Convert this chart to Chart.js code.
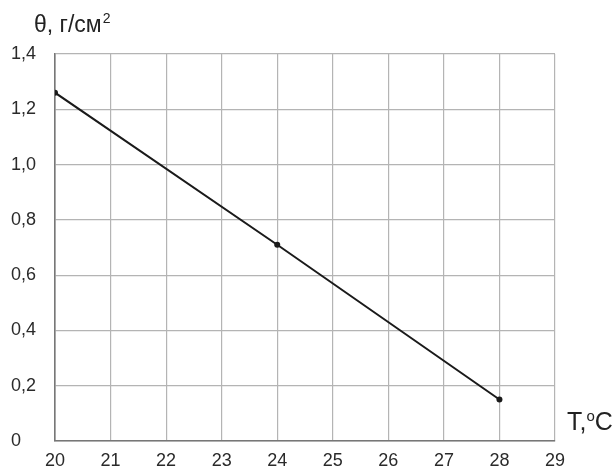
<!DOCTYPE html>
<html>
<head>
<meta charset="utf-8">
<script src="https://cdn.jsdelivr.net/npm/chart.js@4"></script>
<style>
  html, body { margin: 0; padding: 0; background: #fff; }
  #wrap { width: 614px; height: 468px; }
</style>
</head>
<body>
<div id="wrap"><canvas id="c"></canvas></div>
<script>
// температура и значения θ
const temps = [20, 24, 28];
const thetaValues = [1.26, 0.71, 0.15];
const xTicks = [20, 21, 22, 23, 24, 25, 26, 27, 28, 29];
const yTickLabels = ['0', '0,2', '0,4', '0,6', '0,8', '1,0', '1,2', '1,4'];

const FONT = '"Liberation Sans", Arial, sans-serif';

// подписи осей рисуем сами, как на скане
const axisTitles = {
  id: 'axisTitles',
  afterDraw(chart) {
    const ctx = chart.ctx;
    ctx.save();
    ctx.fillStyle = '#222';
    ctx.textBaseline = 'alphabetic';

    // θ, г/см² над осью Y
    let x = 34, y = 32;
    ctx.font = '23px ' + FONT;
    ctx.fillText('θ, г/см', x, y);
    x += ctx.measureText('θ, г/см').width + 1;
    ctx.font = '14px ' + FONT;
    ctx.fillText('2', x, y - 9);

    // T,ºC справа от оси X
    x = 567; y = 430;
    ctx.font = '25px ' + FONT;
    ctx.fillText('T,', x, y);
    x += ctx.measureText('T,').width;
    ctx.font = '15px ' + FONT;
    ctx.fillText('o', x, y - 9);
    x += ctx.measureText('o').width;
    ctx.font = '25px ' + FONT;
    ctx.fillText('C', x, y);
    ctx.restore();
  }
};

new Chart(document.getElementById('c'), {
  type: 'line',
  data: {
    datasets: [{
      data: temps.map((t, i) => ({ x: t, y: thetaValues[i] })),
      borderColor: '#1a1a1a',
      borderWidth: 2,
      pointRadius: 3,
      pointBackgroundColor: '#1a1a1a',
      pointBorderWidth: 0,
      tension: 0
    }]
  },
  options: {
    responsive: true,
    maintainAspectRatio: false,
    animation: false,
    layout: { padding: { left: 11, top: 54, right: 59, bottom: 0 } },
    plugins: { legend: { display: false }, tooltip: { enabled: false } },
    scales: {
      x: {
        type: 'linear',
        min: 20, max: 29,
        afterBuildTicks(axis) { axis.ticks = xTicks.map(v => ({ value: v })); },
        afterFit(axis) { axis.height = 27; },
        grid: { color: '#b4b4b4', lineWidth: 1.2, drawTicks: false },
        border: { color: '#777', width: 1.6 },
        ticks: {
          color: '#2a2a2a',
          padding: 9,
          font: { family: FONT, size: 18 },
          maxRotation: 0
        }
      },
      y: {
        min: 0, max: 1.4,
        afterBuildTicks(axis) { axis.ticks = yTickLabels.map((s, i) => ({ value: i * 0.2 })); },
        afterFit(axis) { axis.width = 44; },
        grid: { color: '#b4b4b4', lineWidth: 1.2, drawTicks: false },
        border: { color: '#777', width: 1.6 },
        ticks: {
          color: '#2a2a2a',
          crossAlign: 'far',
          font: { family: FONT, size: 18 },
          callback: (v, i) => yTickLabels[i]
        }
      }
    }
  },
  plugins: [axisTitles]
});
</script>
</body>
</html>
